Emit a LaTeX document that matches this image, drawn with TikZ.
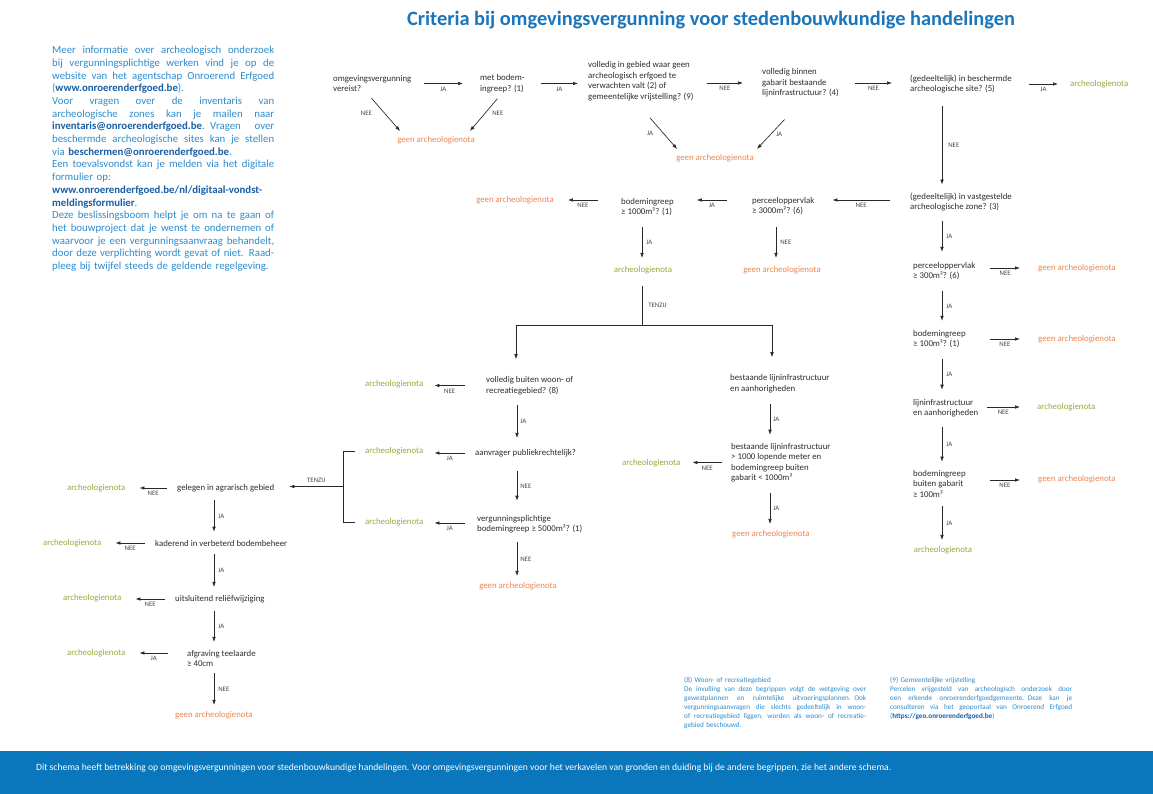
\documentclass[tikz,border=0pt]{standalone}
\usepackage{fontspec}
\setmainfont{Carlito}
\usetikzlibrary{arrows.meta,calc}
\definecolor{titleblue}{RGB}{27,117,187}
\definecolor{infoblue}{RGB}{45,140,205}
\definecolor{infobold}{RGB}{25,95,165}
\definecolor{dark}{RGB}{45,45,45}
\definecolor{labgray}{RGB}{70,70,70}
\definecolor{linec}{RGB}{40,40,40}
\definecolor{archgreen}{RGB}{150,170,60}
\definecolor{geenorange}{RGB}{235,135,80}
\definecolor{barblue}{RGB}{10,118,188}
\newcommand\fsd{\fontsize{8.8}{10.5}\selectfont}
\newcommand\infoJ[1]{\hbox to 222pt{\spaceskip=0.22em plus 1fil\relax #1}\par}
\newcommand\infoL[1]{\hbox to 222pt{#1\hfil}\par}
\newcommand\fnJ[1]{\hbox to 182pt{\spaceskip=0.2em plus 1fil\relax #1}\par}
\newcommand\fnL[1]{\hbox to 182pt{#1\hfil}\par}
\newcommand\ib[1]{\textbf{\color{infobold}#1}}
\setlength\parindent{0pt}
\hbadness=10000 \hfuzz=60pt
\begin{document}
\begin{tikzpicture}[x=1pt,y=-1pt,
  q/.style={font=\fsd, text=dark, inner sep=0pt, align=left, anchor=west},
  arch/.style={font=\fsd, text=archgreen, inner sep=0pt},
  geen/.style={font=\fsd, text=geenorange, inner sep=0pt},
  lab/.style={font=\fontsize{6.8}{7.5}\selectfont, text=labgray, inner sep=0pt},
  arr/.style={draw=linec, line width=0.65pt, -{Latex[length=5pt,width=3.6pt]}},
  ln/.style={draw=linec, line width=0.65pt}]
\fill[white] (0,0) rectangle (1153,794);
\useasboundingbox (0,0) rectangle (1153,794);

% title
\node[font=\fontsize{20.4}{22}\selectfont\bfseries, text=titleblue, inner sep=0] (title) at (711,20) {Criteria bij omgevingsvergunning voor stedenbouwkundige handelingen};

% info block
\node[anchor=north west, inner sep=0, text width=222pt, font=\fontsize{10.8}{12.7}\selectfont, text=infoblue] (info) at (52,46) {%
\infoJ{Meer informatie over archeologisch onderzoek}
\infoJ{bij vergunningsplichtige werken vind je op de}
\infoJ{website van het agentschap Onroerend Erfgoed}
\infoL{(\ib{www.onroerenderfgoed.be}).}
\infoJ{Voor vragen over de inventaris van}
\infoJ{archeologische zones kan je mailen naar}
\infoJ{\ib{inventaris@onroerenderfgoed.be}. Vragen over}
\infoJ{beschermde archeologische sites kan je stellen}
\infoL{via \ib{beschermen@onroerenderfgoed.be}.}
\infoJ{Een toevalsvondst kan je melden via het digitale}
\infoL{formulier op:}
\infoL{\ib{www.onroerenderfgoed.be/nl/digitaal-vondst-}}
\infoL{\ib{meldingsformulier}.}
\infoJ{Deze beslissingsboom helpt je om na te gaan of}
\infoJ{het bouwproject dat je wenst te ondernemen of}
\infoJ{waarvoor je een vergunningsaanvraag behandelt,}
\infoJ{door deze verplichting wordt gevat of niet. Raad-}
\infoL{pleeg bij twijfel steeds de geldende regelgeving.}};

% ---------- top row
\node[q] (q1) at (333,83.5) {omgevingsvergunning\\vereist?};
\node[q] (q2) at (480,83.5) {met bodem-\\ingreep? (1)};
\node[q] (q3) at (588,81) {volledig in gebied waar geen\\archeologisch erfgoed te\\verwachten valt (2) of\\gemeentelijke vrijstelling? (9)};
\node[q] (q4) at (762,83) {volledig binnen\\gabarit bestaande\\lijninfrastructuur? (4)};
\node[q] (q5) at (910,84) {(gedeeltelijk) in beschermde\\archeologische site? (5)};
\node[arch,anchor=west] (a1) at (1070,84) {archeologienota};
\node[geen] (g1) at (436,140) {geen archeologienota};
\node[geen] (g2) at (715,158) {geen archeologienota};

% ---------- second row
\node[q] (q6) at (910,202) {(gedeeltelijk) in vastgestelde\\archeologische zone? (3)};
\node[q] (q7) at (752,206) {perceeloppervlak\\≥ 3000m²? (6)};
\node[q] (q8) at (621,207) {bodemingreep\\≥ 1000m²? (1)};
\node[geen] (g3) at (515,200) {geen archeologienota};
\node[arch] (a2) at (643,270) {archeologienota};
\node[geen] (g4) at (782,270) {geen archeologienota};

% ---------- right column
\node[q] (q9) at (913,271) {perceeloppervlak\\≥ 300m²? (6)};
\node[geen,anchor=west] (g5) at (1038,268) {geen archeologienota};
\node[q] (q10) at (913,339) {bodemingreep\\≥ 100m²? (1)};
\node[geen,anchor=west] (g6) at (1038,339) {geen archeologienota};
\node[q] (q11) at (913,408) {lijninfrastructuur\\en aanhorigheden};
\node[arch,anchor=west] (a3) at (1037,407) {archeologienota};
\node[q] (q12) at (913,483.5) {bodemingreep\\buiten gabarit\\≥ 100m²};
\node[geen,anchor=west] (g7) at (1038,479) {geen archeologienota};
\node[arch] (a4) at (943,550) {archeologienota};

% ---------- middle
\node[q] (q13) at (486,385.5) {volledig buiten woon- of\\recreatiegebied? (8)};
\node[arch,anchor=west] (a5) at (365,384) {archeologienota};
\node[q] (q14) at (475,453) {aanvrager publiekrechtelijk?};
\node[arch,anchor=west] (a6) at (365,451) {archeologienota};
\node[q] (q15) at (477,524) {vergunningsplichtige\\bodemingreep ≥ 5000m²? (1)};
\node[arch,anchor=west] (a7) at (365,522) {archeologienota};
\node[geen] (g8) at (518,586) {geen archeologienota};

\node[q] (q16) at (730,383.5) {bestaande lijninfrastructuur\\en aanhorigheden};
\node[q] (q17) at (731,462.5) {bestaande lijninfrastructuur\\> 1000 lopende meter en\\bodemingreep buiten\\gabarit < 1000m²};
\node[arch,anchor=west] (a8) at (622,463) {archeologienota};
\node[geen,anchor=west] (g9) at (732,534) {geen archeologienota};

% ---------- left
\node[q] (q18) at (177,488) {gelegen in agrarisch gebied};
\node[arch,anchor=west] (a9) at (67,488) {archeologienota};
\node[q] (q19) at (155,543) {kaderend in verbeterd bodembeheer};
\node[arch,anchor=west] (a10) at (43,543) {archeologienota};
\node[q] (q20) at (175,599) {uitsluitend reliëfwijziging};
\node[arch,anchor=west] (a11) at (63,598) {archeologienota};
\node[q] (q21) at (187,658.5) {afgraving teelaarde\\≥ 40cm};
\node[arch,anchor=west] (a12) at (67,653) {archeologienota};
\node[geen,anchor=west] (g10) at (175,715) {geen archeologienota};

% ---------- connectors top
\draw[arr] ($(q1.east)+(12,0)$) -- ($(q1.east-|q2.west)+(-17,0)$) node[lab,midway,below=3pt]{JA};
\draw[arr] ($(q2.east)+(16,0)$) -- ($(q2.east-|q3.west)+(-10,0)$) node[lab,midway,below=3pt]{JA};
\draw[arr] ($(q4.west-|q3.east)+(13,0)$) -- ($(q4.west)+(-19,0)$) node[lab,midway,below=3pt]{NEE};
\draw[arr] ($(q4.east)+(16,0)$) -- ($(q4.east-|q5.west)+(-18,0)$) node[lab,midway,below=3pt]{NEE};
\draw[arr] ($(q5.east)+(17,0)$) -- ($(q5.east-|a1.west)+(-12,0)$) node[lab,midway,below=3pt]{JA};
\draw[arr] ($(q1.south)+(-1,6)$) -- ($(g1.north west)+(3,-5)$) node[lab,pos=0.45,left=12pt]{NEE};
\draw[arr] ($(q2.south)+(-5,6)$) -- ($(g1.north east)+(-5,-5)$) node[lab,pos=0.45,right=7pt]{NEE};
\draw[arr] ($(q3.south)+(9,17)$) -- ($(g2.north west)+(1,-5)$) node[lab,pos=0.5,left=10pt]{JA};
\draw[arr] ($(q4.south)+(-16,22)$) -- ($(g2.north east)+(3,-5)$) node[lab,pos=0.5,right=5pt]{JA};
\draw[arr] ($(q5.south west)+(32,13)$) -- ($(q5.south west |- q6.north)+(32,-8)$) node[lab,midway,right=6pt]{NEE};

% ---------- second row
\draw[arr] ($(q6.west)+(-20,-2)$) -- ($(q6.west -| q7.east)+(18,-2)$) node[lab,midway,below=3pt]{NEE};
\draw[arr] ($(q7.west)+(-25,-6)$) -- ($(q7.west -| q8.east)+(23,-6)$) node[lab,midway,below=3pt]{JA};
\draw[arr] ($(q8.west)+(-23,-7)$) -- ($(q8.west -| g3.east)+(14,-7)$) node[lab,midway,below=3pt]{NEE};
\draw[arr] ($(q8.south west)+(21,11)$) -- ($(q8.south west |- a2.north)+(21,-8)$) node[lab,midway,right=4pt]{JA};
\draw[arr] ($(q7.south west)+(24,12)$) -- ($(q7.south west |- g4.north)+(24,-8)$) node[lab,midway,right=4pt]{NEE};

\coordinate (sp) at (642,325);
\coordinate (spl) at (516,325);
\coordinate (spr) at (772,325);
\draw[ln] ($(a2.south)+(-1,12)$) -- (sp) node[lab,midway,right=6pt]{TENZIJ};
\draw[ln] (spl) -- (spr);
\draw[arr] (spl) -- ($(spl |- q13.north)+(0,-17)$);
\draw[arr] (spr) -- ($(spr |- q16.north)+(0,-17)$);

% ---------- middle left
\draw[arr] ($(q13.west)+(-21,0)$) -- ($(q13.west -| a5.east)+(11,0)$) node[lab,midway,below=3pt]{NEE};
\draw[arr] ($(q13.south west)+(31,10)$) -- ($(q13.south west |- q14.north)+(31,-11)$) node[lab,midway,right=3pt]{JA};
\draw[arr] ($(q14.west)+(-10,0)$) -- ($(q14.west -| a6.east)+(11,0)$) node[lab,midway,below=3pt]{JA};
\draw[arr] ($(q14.south west)+(42,14)$) -- ($(q14.south west |- q15.north)+(42,-14)$) node[lab,midway,right=3pt]{NEE};
\draw[arr] ($(q15.west)+(-12,-1)$) -- ($(q15.west -| a7.east)+(11,-1)$) node[lab,midway,below=3pt]{JA};
\draw[arr] ($(q15.south west)+(40,9)$) -- ($(q15.south west |- g8.north)+(40,-6)$) node[lab,midway,right=3pt]{NEE};

\draw[ln] ($(a6.west)+(-10,0)$) -- ++(-12,0) coordinate (bt) -- ($(a7.west)+(-22,0)$) coordinate (bb) -- ($(a7.west)+(-10,0)$);
\coordinate (bm) at ($(bt)!0.5!(bb)$);
\draw[arr] (bm) -- ($(bm -| q18.east)+(15,0)$) node[lab,midway,above=4pt]{TENZIJ};

% ---------- middle right
\draw[arr] ($(q16.south west)+(40,11)$) -- ($(q16.south west |- q17.north)+(40,-8)$) node[lab,midway,right=3pt]{JA};
\draw[arr] ($(q17.west)+(-9,0)$) -- ($(q17.west -| a8.east)+(12,0)$) node[lab,midway,below=3pt]{NEE};
\draw[arr] ($(q17.south west)+(39,11)$) -- ($(q17.south west |- g9.north)+(39,-6)$) node[lab,midway,right=3pt]{JA};

% ---------- right column
\draw[arr] ($(q6.south west)+(32,10)$) -- ($(q6.south west |- q9.north)+(32,-10)$) node[lab,midway,right=4pt]{JA};
\draw[arr] ($(q9.east)+(15,-3)$) -- ($(q9.east -| g5.west)+(-18,-3)$) node[lab,midway,below=3pt]{NEE};
\draw[arr] ($(q9.south west)+(29,11)$) -- ($(q9.south west |- q10.north)+(29,-9)$) node[lab,midway,right=4pt]{JA};
\draw[arr] ($(q10.east)+(24,0)$) -- ($(q10.east -| g6.west)+(-18,0)$) node[lab,midway,below=3pt]{NEE};
\draw[arr] ($(q10.south west)+(29,11)$) -- ($(q10.south west |- q11.north)+(29,-9)$) node[lab,midway,right=4pt]{JA};
\draw[arr] ($(q11.east)+(8,-1)$) -- ($(q11.east -| a3.west)+(-17,-1)$) node[lab,midway,below=3pt]{NEE};
\draw[arr] ($(q11.south west)+(29,10)$) -- ($(q11.south west |- q12.north)+(29,-8)$) node[lab,midway,right=4pt]{JA};
\draw[arr] ($(q12.east)+(24,-3.5)$) -- ($(q12.east -| g7.west)+(-18,-3.5)$) node[lab,midway,below=3pt]{NEE};
\draw[arr] ($(q12.south west)+(29,9)$) -- ($(q12.south west |- a4.north)+(29,-6)$) node[lab,midway,right=4pt]{JA};

% ---------- left column
\draw[arr] ($(q18.west)+(-10,0)$) -- ($(q18.west -| a9.east)+(14,0)$) node[lab,midway,below=3pt]{NEE};
\draw[arr] ($(q18.south west)+(37,8)$) -- ($(q18.south west |- q19.north)+(37,-8)$) node[lab,midway,right=4pt]{JA};
\draw[arr] ($(q19.west)+(-10,0)$) -- ($(q19.west -| a10.east)+(14,0)$) node[lab,midway,below=3pt]{NEE};
\draw[arr] ($(q19.south west)+(59,8)$) -- ($(q19.south west |- q20.north)+(59,-8)$) node[lab,midway,right=4pt]{JA};
\draw[arr] ($(q20.west)+(-10,0)$) -- ($(q20.west -| a11.east)+(14,0)$) node[lab,midway,below=3pt]{NEE};
\draw[arr] ($(q20.south west)+(39,8)$) -- ($(q20.south west |- q21.north)+(39,-8)$) node[lab,midway,right=4pt]{JA};
\draw[arr] ($(q21.west)+(-19,-5.5)$) -- ($(q21.west -| a12.east)+(14,-5.5)$) node[lab,midway,below=3pt]{JA};
\draw[arr] ($(q21.south west)+(27,6)$) -- ($(q21.south west |- g10.north)+(27,-6)$) node[lab,midway,right=4pt]{NEE};

% ---------- footnotes
\node[anchor=north west, inner sep=0, text width=182pt, font=\fontsize{7.2}{9}\selectfont, text=infoblue] (fn8) at (684,677) {%
\fnL{(8) Woon- of recreatiegebied}
\fnJ{De invulling van deze begrippen volgt de wetgeving over}
\fnJ{gewestplannen en ruimtelijke uitvoeringsplannen. Ook}
\fnJ{vergunningsaanvragen die slechts gedeeltelijk in woon-}
\fnJ{of recreatiegebied liggen, worden als woon- of recreatie-}
\fnL{gebied beschouwd.}};
\node[anchor=north west, inner sep=0, text width=182pt, font=\fontsize{7.2}{9}\selectfont, text=infoblue] (fn9) at (890,677) {%
\fnL{(9) Gemeentelijke vrijstelling}
\fnJ{Percelen vrijgesteld van archeologisch onderzoek door}
\fnJ{een erkende onroerenderfgoedgemeente. Deze kan je}
\fnJ{consulteren via het geoportaal van Onroerend Erfgoed}
\fnL{(\ib{https://geo.onroerenderfgoed.be})}};

% ---------- bottom bar
\fill[barblue] (0,751) rectangle (1153,794);
\node[anchor=west, inner sep=0, text=white, font=\fontsize{9.6}{11}\selectfont] (foot) at (36,768) {Dit schema heeft betrekking op omgevingsvergunningen voor stedenbouwkundige handelingen. Voor omgevingsvergunningen voor het verkavelen van gronden en duiding bij de andere begrippen, zie het andere schema.};
\end{tikzpicture}
\end{document}
